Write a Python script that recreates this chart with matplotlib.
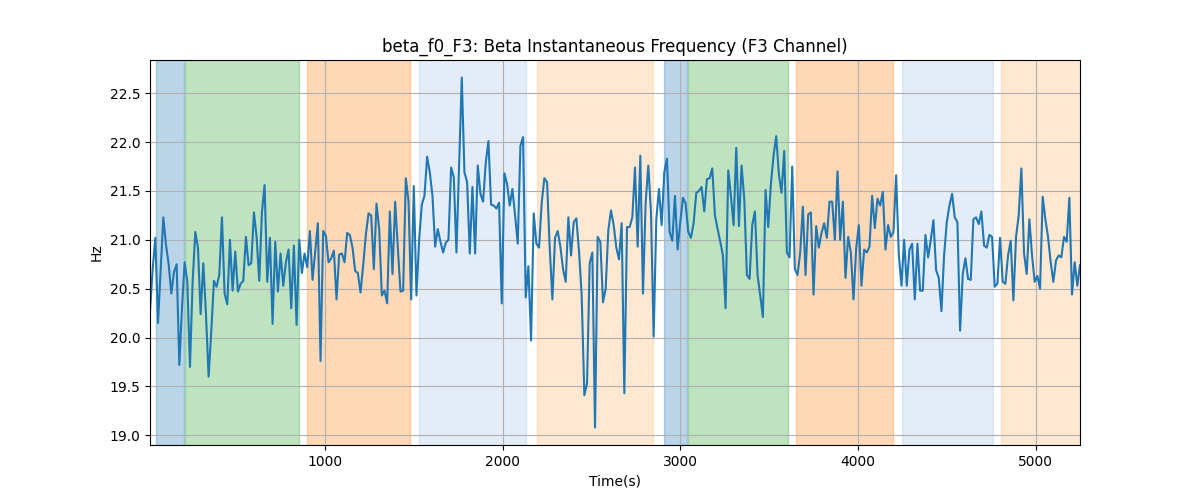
import numpy as np
import matplotlib
matplotlib.use("Agg")
from matplotlib import pyplot as plt

# beta f0 values, one sample every 15 s
freq_f3 = [
    20.27, 20.7, 21.02, 20.15, 20.7, 21.23, 20.95, 20.75, 20.45, 20.67, 20.75, 19.72, 20.3, 20.77, 20.57,
    19.7, 20.57, 21.08, 20.92, 20.24, 20.76, 20.24, 19.6, 20.07, 20.58, 20.52, 20.64, 21.23, 20.45, 20.34,
    21.0, 20.48, 20.88, 20.47, 20.55, 20.58, 21.03, 20.74, 20.76, 21.28, 21.03, 20.58, 21.28, 21.56,
    20.57, 21.02, 20.14, 20.98, 20.47, 20.86, 20.53, 20.77, 20.9, 20.3, 20.94, 20.13, 21.0, 20.66, 20.86,
    20.72, 21.09, 20.59, 20.88, 21.17, 19.76, 21.09, 21.04, 20.77, 20.81, 20.89, 20.39, 20.85, 20.86, 20.77,
    21.07, 21.05, 20.92, 20.68, 20.66, 20.46, 20.74, 21.05, 21.27, 21.25, 20.7, 21.37, 21.11,
    20.43, 20.48, 20.35, 21.29, 20.65, 21.39, 20.92, 20.47, 20.48, 21.63, 21.4, 20.39, 21.55, 20.43, 21.0,
    21.36, 21.45, 21.85, 21.69, 21.45, 20.93, 21.11, 20.98, 20.87, 20.97, 21.0, 21.74, 21.64, 20.87, 21.76,
    22.66, 21.69, 21.59, 20.86, 21.54, 20.86, 21.76, 21.47, 21.39, 21.79, 22.01, 21.36, 21.35,
    21.32, 21.38, 20.35, 21.68, 21.57, 21.35, 21.52, 21.25, 20.96, 21.96, 22.05, 20.41, 20.73, 19.97, 21.27,
    20.96, 20.92, 21.38, 21.63, 21.59, 20.92, 20.39, 21.02, 21.09, 20.93, 20.7, 20.57, 21.23, 20.84, 21.18,
    21.22, 20.88, 20.43, 19.41, 19.53, 20.76, 20.87, 19.08, 21.03, 20.98, 20.36, 20.5, 21.1,
    21.3, 21.15, 20.92, 20.8, 21.17, 19.43, 21.13, 21.13, 21.23, 21.74, 20.93, 21.86, 20.45, 21.38, 21.76,
    21.28, 20.01, 21.21, 21.52, 21.15, 21.69, 21.83, 21.08, 20.99, 21.45, 20.9, 21.18, 21.43, 21.37, 21.08,
    21.02, 21.17, 21.48, 21.5, 21.54, 21.29, 21.62, 21.63, 21.73, 21.25, 21.11, 20.98, 20.84,
    20.3, 21.71, 21.45, 21.15, 21.94, 21.14, 21.76, 21.42, 20.64, 20.6, 21.15, 21.29, 20.64, 20.43, 20.21,
    21.51, 21.13, 21.57, 21.86, 22.06, 21.67, 21.48, 21.91, 20.87, 20.82, 21.75, 20.7, 20.64, 20.87, 21.34,
    20.64, 21.26, 21.28, 20.44, 21.14, 20.92, 21.07, 21.17, 21.02, 21.39, 21.39, 21.0, 21.7,
    21.0, 21.39, 20.61, 21.03, 20.87, 20.39, 20.91, 21.15, 20.53, 20.9, 20.87, 20.93, 21.45, 21.12, 21.42,
    21.35, 21.49, 20.9, 21.15, 21.03, 21.08, 21.66, 20.85, 20.53, 21.0, 20.53, 20.9, 20.96, 20.39, 20.96,
    20.48, 20.48, 21.05, 20.82, 21.0, 21.2, 20.69, 20.61, 20.27, 20.84, 21.18, 21.35, 21.47,
    21.23, 21.18, 20.07, 20.65, 20.81, 20.6, 20.59, 21.21, 21.23, 21.16, 21.29, 20.94, 20.92, 21.05, 21.03,
    20.52, 20.55, 21.02, 20.57, 20.55, 20.84, 20.99, 20.38, 21.03, 21.25, 21.73, 20.86, 20.65, 21.21, 20.84,
    20.57, 20.63, 20.5, 21.44, 21.21, 21.03, 20.77, 20.57, 20.79, 20.84, 20.82, 21.03, 20.98, 21.43, 20.44,
    20.77, 20.53, 20.74,
]
t_start = 14
t_step = 15

# shaded segments: (start, end, colour, alpha)
seg_start = [48, 211, 897, 1527, 2190, 2905, 3041, 3652, 4248, 4805]
seg_end = [207, 852, 1476, 2132, 2843, 3034, 3606, 4198, 4758, 5300]
seg_color = ["tab:blue", "tab:green", "tab:orange", "#aec7e8", "#ffbb78",
             "tab:blue", "tab:green", "tab:orange", "#aec7e8", "#ffbb78"]
seg_alpha = [0.3, 0.3, 0.3, 0.33, 0.33, 0.3, 0.3, 0.3, 0.33, 0.33]

times = t_start + t_step * np.arange(len(freq_f3))

fig, ax = plt.subplots(figsize=(12, 5), dpi=100)
for s, e, c, a in zip(seg_start, seg_end, seg_color, seg_alpha):
    ax.axvspan(s, e, color=c, alpha=a)
ax.plot(times, freq_f3, color="tab:blue")
ax.set_xlim(times[0], times[-1])
ax.grid(True)
ax.set_title("beta_f0_F3: Beta Instantaneous Frequency (F3 Channel)")
ax.set_xlabel("Time(s)")
ax.set_ylabel("Hz")

plt.savefig("out.png")
